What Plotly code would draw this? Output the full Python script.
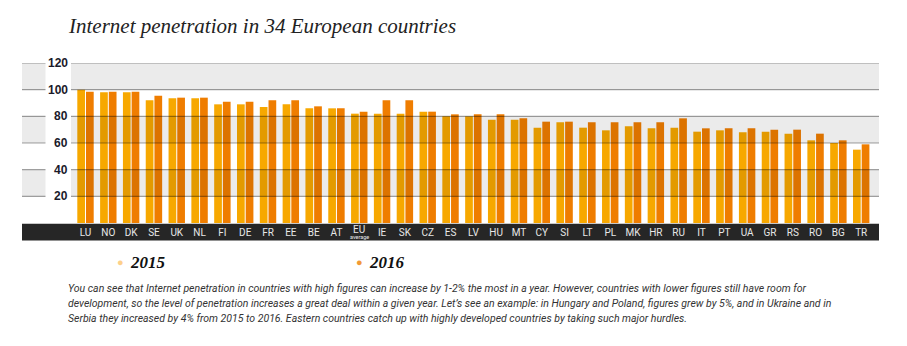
import plotly.graph_objects as go

# ---------------- data ----------------
countries = ["LU", "NO", "DK", "SE", "UK", "NL", "FI", "DE", "FR", "EE", "BE", "AT", "EU",
             "IE", "SK", "CZ", "ES", "LV", "HU", "MT", "CY", "SI", "LT", "PL", "MK", "HR",
             "RU", "IT", "PT", "UA", "GR", "RS", "RO", "BG", "TR"]
eu_label = ["EU", "average"]
values_2015 = [100, 98, 98, 92, 93.5, 93.5, 89, 89, 87, 89, 86, 86, 82,
               82, 82, 83.5, 80, 80, 77.5, 77.5, 71.5, 75.5, 71.5, 69.5, 72.5, 71,
               71.5, 68.5, 69.5, 68, 68.5, 67, 62, 60, 55]
values_2016 = [98.5, 98.5, 98.5, 95.5, 94, 94, 91, 91, 92, 92, 87.5, 86, 83.5,
               92, 92, 83.5, 81.5, 81.5, 81.5, 78.5, 76, 76, 75.5, 75.5, 75.5, 75.5,
               78.5, 71, 71, 71, 70, 70, 67, 62, 59]
y_ticks = [20, 40, 60, 80, 100, 120]
series_names = ["2015", "2016"]

title_text = "Internet penetration in 34 European countries"
note_lines = [
    "You can see that Internet penetration in countries with high figures can increase by 1-2% the most in a year. However, countries with lower figures still have room for",
    "development, so the level of penetration increases a great deal within a given year. Let\u2019s see an example: in Hungary and Poland, figures grew by 5%, and in Ukraine and in",
    "Serbia they increased by 4% from 2015 to 2016. Eastern countries catch up with highly developed countries by taking such major hurdles.",
]

# ---------------- layout geometry (pixels) ----------------
W, H = 907, 346
PL, PR = 22, 879          # plot left/right px
PT, PB = 62.7, 223.5      # plot top/bottom px
pw, ph = PR - PL, PB - PT

def px_x(x):
    return (x - PL) / pw

def px_y(y):
    return (PB - y) / ph

C2015 = "#F7A800"
C2016 = "#EF7D00"
SANS = "Roboto, Liberation Sans, sans-serif"
SERIF = "Liberation Serif, DejaVu Serif, serif"

fig = go.Figure()
fig.add_trace(go.Bar(x=countries, y=values_2015, name=series_names[0], marker=dict(color=C2015, line=dict(width=0))))
fig.add_trace(go.Bar(x=countries, y=values_2016, name=series_names[1], marker=dict(color=C2016, line=dict(width=0))))

tick_text = ["" if c == eu_label[0] else c for c in countries]

# category range to place groups
pitch = (861.2 - 85.5) / (len(countries) - 1)
x0 = -(85.5 - PL) / pitch
x1 = (len(countries) - 1) + (PR - 861.2) / pitch

shapes = []
# dark label band
shapes.append(dict(type="rect", xref="paper", yref="paper", x0=0, x1=1,
                   y0=px_y(224.3), y1=px_y(241), fillcolor="#262626", line=dict(width=0), layer="below"))
# gray alternating bands (translucent, above bars)
for i in range(0, len(y_ticks) - 1, 2):
    shapes.append(dict(type="rect", xref="paper", yref="y", x0=0, x1=1, y0=y_ticks[i], y1=y_ticks[i + 1],
                       fillcolor="rgba(0,0,0,0.078)", line=dict(width=0), layer="above"))
# grid lines
for t in y_ticks:
    shapes.append(dict(type="line", xref="paper", yref="y", x0=0, x1=1, y0=t, y1=t,
                       line=dict(color="rgba(0,0,0,0.37)", width=1.2), layer="above"))
# white strip behind y labels
shapes.append(dict(type="rect", xref="paper", yref="y", x0=px_x(45.5), x1=px_x(71), y0=0, y1=121,
                   fillcolor="white", line=dict(width=0), layer="above"))

annotations = []
for t in y_ticks:
    annotations.append(dict(x=px_x(69.5), y=t, xref="paper", yref="y", text="<b>" + str(t) + "</b>", showarrow=False,
                            xanchor="right", yanchor="middle",
                            font=dict(family="Liberation Sans, Arial, sans-serif", size=12, color="#1a1a2a")))
# EU average label
annotations.append(dict(x=eu_label[0], y=px_y(230), xref="x", yref="paper", text=eu_label[0], showarrow=False,
                        xanchor="center", yanchor="middle", font=dict(family=SANS, size=10, color="#e8e8e8")))
annotations.append(dict(x=eu_label[0], y=px_y(237.5), xref="x", yref="paper", text=eu_label[1], showarrow=False,
                        xanchor="center", yanchor="middle", font=dict(family=SANS, size=5.5, color="#e8e8e8")))
# title
annotations.append(dict(x=px_x(66), y=px_y(26), xref="paper", yref="paper", text=title_text, showarrow=False,
                        xanchor="left", yanchor="middle",
                        font=dict(family=SERIF, size=21, color="#222", style="italic")))
# legend
leg = [(120, 128, series_names[0], "#FDD08A"), (359, 367, series_names[1], "#F29A35")]
for dx, tx, name, col in leg:
    annotations.append(dict(x=px_x(dx), y=px_y(262), xref="paper", yref="paper", text="\u25CF", showarrow=False,
                            xanchor="center", yanchor="middle", font=dict(size=11, color=col)))
    annotations.append(dict(x=px_x(tx), y=px_y(263), xref="paper", yref="paper", text="<b><i>" + name + "</i></b>",
                            showarrow=False, xanchor="left", yanchor="middle",
                            font=dict(family=SERIF, size=17, color="#111")))
# note text
for i, line in enumerate(note_lines):
    annotations.append(dict(x=px_x(66), y=px_y(289 + 15 * i), xref="paper", yref="paper", text="<i>" + line + "</i>",
                            showarrow=False, xanchor="left", yanchor="middle",
                            font=dict(family=SANS, size=10.5, color="#333")))

fig.update_layout(
    width=W, height=H,
    margin=dict(l=PL, r=W - PR, t=PT, b=H - PB, pad=0),
    paper_bgcolor="white", plot_bgcolor="white",
    barmode="group", bargap=0.237, bargroupgap=0.115,
    showlegend=False,
    xaxis=dict(type="category", range=[x0, x1], tickmode="array", tickvals=countries, ticktext=tick_text,
               showgrid=False, zeroline=False, showline=False, ticks="", ticklen=0, ticklabelstandoff=2,
               tickfont=dict(family=SANS, size=10, color="#e8e8e8")),
    yaxis=dict(range=[0, 120], showgrid=False, zeroline=False, showline=False, showticklabels=False, ticks=""),
    shapes=shapes, annotations=annotations,
)

fig.write_html("out.html")
